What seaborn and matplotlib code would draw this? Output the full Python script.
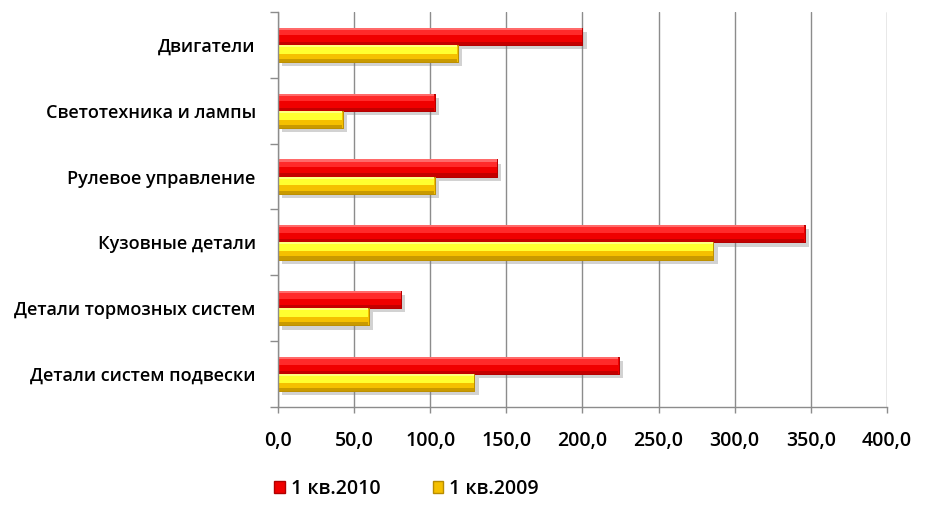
import pandas as pd
import matplotlib
matplotlib.use("Agg")
import matplotlib.pyplot as plt
import matplotlib.patheffects as pe
from matplotlib.patches import Rectangle, Patch
import seaborn as sns

categories = [
    "Двигатели",
    "Светотехника и лампы",
    "Рулевое управление",
    "Кузовные детали",
    "Детали тормозных систем",
    "Детали систем подвески",
]
q1_2010 = [200.0, 103.0, 144.0, 346.0, 81.0, 224.0]
q1_2009 = [118.0, 42.5, 103.0, 286.0, 59.5, 129.0]
series = ["1 кв.2010", "1 кв.2009"]
x_ticks = [0, 50, 100, 150, 200, 250, 300, 350, 400]

df = pd.DataFrame({
    "cat": categories * 2,
    "val": q1_2010 + q1_2009,
    "series": [series[0]] * len(categories) + [series[1]] * len(categories),
})

base = {series[0]: "#f00000", series[1]: "#f5c000"}
edge = {series[0]: "#b00000", series[1]: "#b88c00"}
# glossy bands (fraction from top of bar, fraction end, colour)
bands = {
    series[0]: [(0.0, 0.12, "#ff6a6a"), (0.12, 0.45, "#ff2a2a"), (0.82, 1.0, "#c40000")],
    series[1]: [(0.0, 0.12, "#ffff80"), (0.12, 0.52, "#ffff30"), (0.82, 1.0, "#c99a00")],
}

sns.set_theme(style="white")
plt.rcParams["font.family"] = ["Open Sans", "DejaVu Sans"]
plt.rcParams["text.color"] = "black"
plt.rcParams["xtick.color"] = "black"
plt.rcParams["ytick.color"] = "black"

fig = plt.figure(figsize=(9.27, 5.19), dpi=100)
ax = fig.add_axes([0.2999, 0.2158, 0.6569, 0.7611])

sns.barplot(data=df, y="cat", x="val", hue="series", hue_order=series,
            palette=base, saturation=1, orient="h", width=0.52, ax=ax, legend=False)

shadow = [pe.withSimplePatchShadow(offset=(3, -3), shadow_rgbFace="#808080", alpha=0.35), pe.Normal()]
for container, s in zip(ax.containers, series):
    for bar in container:
        bar.set_edgecolor(edge[s])
        bar.set_linewidth(0.6)
        bar.set_path_effects(shadow)
        x0, y0 = bar.get_x(), bar.get_y()
        w, h = bar.get_width(), bar.get_height()
        for f0, f1, c in bands[s]:
            ax.add_patch(Rectangle((x0 + 0.4, y0 + h * f0), w - 0.8, h * (f1 - f0),
                                   facecolor=c, edgecolor="none", zorder=bar.get_zorder() + 0.1))

ax.set_xlim(0, 400)
ax.set_ylim(5.5, -0.5)
ax.set_xticks(x_ticks)
ax.set_xticklabels([f"{t:.1f}".replace(".", ",") for t in x_ticks], fontsize=14, fontweight="semibold")
ax.set_xlabel("")
ax.set_ylabel("")
ax.set_yticks(range(len(categories)))
ax.set_yticklabels(categories, fontsize=13, fontweight="semibold")
ax.set_yticks([i - 0.5 for i in range(len(categories) + 1)], minor=True)
ax.tick_params(axis="y", which="major", length=0, pad=16)
ax.tick_params(axis="y", which="minor", length=6, width=1, color="#8c8c8c", direction="out", left=True)
ax.tick_params(axis="x", which="major", length=4, width=1, color="#8c8c8c", direction="out", bottom=True, pad=13)

ax.grid(axis="x", color="#8c8c8c", linewidth=1)
ax.set_axisbelow(True)
for side in ["top", "right"]:
    ax.spines[side].set_visible(False)
for side in ["left", "bottom"]:
    ax.spines[side].set_color("#8c8c8c")
    ax.spines[side].set_linewidth(1)

handles = [Patch(facecolor=base[s], edgecolor=edge[s]) for s in series]
fig.legend(handles, series, loc="center", bbox_to_anchor=(0.4385, 0.058), ncol=2,
           frameon=False, prop={"size": 14, "weight": "semibold"}, handlelength=0.55, handleheight=0.6,
           handletextpad=0.3, columnspacing=2.7)

fig.savefig("out.png", dpi=100)
